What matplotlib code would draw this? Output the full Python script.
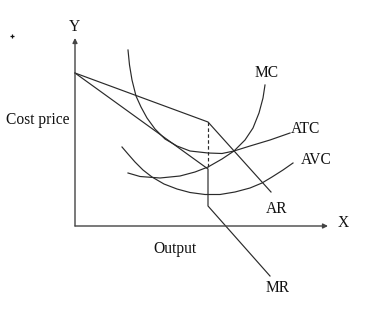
import matplotlib
matplotlib.use("Agg")
import matplotlib.pyplot as plt

# Coordinates: output (x) and cost/price (y), origin at the axes corner
atc_x = [53, 54.5, 57, 61, 66, 72, 80, 90, 102, 115, 133, 147, 159, 175, 195, 215]
atc_y = [176, 161, 146, 130, 119, 108, 97, 87, 80, 75, 73, 72.5, 75, 80, 86, 93]

mc_x = [53, 65, 85, 105, 120, 133, 147, 159, 170, 178, 184, 188, 190]
mc_y = [53, 49.5, 48, 50, 54, 59, 67, 75, 86, 98, 113, 128, 141]

avc_x = [47, 53, 60, 68, 77, 89, 102, 115, 130, 145, 160, 175, 187, 197, 208, 218]
avc_y = [79, 72, 64, 56, 49, 42, 37, 33.5, 31.5, 31.5, 34, 38, 43, 49, 56, 63]

ar_x = [0, 133, 196]
ar_y = [153, 104, 34]

mr_x = [0, 133, 133, 195]
mr_y = [153, 57, 20, -50]

gap_x = [133, 133]
gap_y = [104, 57]

labels = ["MC", "ATC", "AVC", "AR", "MR"]
label_x = [192, 231, 241.5, 202, 203]
label_y = [155, 99, 68, 19, -60]

x_axis_len = 253
y_axis_len = 188

plt.rcParams['font.family'] = ['Liberation Serif', 'DejaVu Serif']
fig = plt.figure(figsize=(3.74, 3.16), dpi=100)
ax = fig.add_axes([0, 0, 1, 1])
ax.set_xlim(-75, 299)
ax.set_ylim(-90, 226)
ax.axis('off')

lc = '#2a2a2a'
lw = 0.85
ax.plot(atc_x, atc_y, color=lc, lw=lw)
ax.plot(mc_x, mc_y, color=lc, lw=lw)
ax.plot(avc_x, avc_y, color=lc, lw=lw)
ax.plot(ar_x, ar_y, color=lc, lw=lw)
ax.plot(mr_x, mr_y, color=lc, lw=lw)
ax.plot(gap_x, gap_y, color=lc, lw=lw, ls=(0, (3, 2)))

ac = '#444444'
ax.annotate('', xy=(x_axis_len, 0), xytext=(0, 0),
            arrowprops=dict(arrowstyle='-|>', lw=1.0, color=ac, mutation_scale=7,
                            shrinkA=0, shrinkB=0))
ax.annotate('', xy=(0, y_axis_len), xytext=(0, 0),
            arrowprops=dict(arrowstyle='-|>', lw=1.0, color=ac, mutation_scale=7,
                            shrinkA=0, shrinkB=0))

fs = 11.2
for t, x, y in zip(labels, label_x, label_y):
    ax.text(x, y, t, fontsize=fs, ha='center', va='center_baseline', color='#111')
ax.text(268, 5, "X", fontsize=fs, ha='center', va='center_baseline', color='#111')
ax.text(-0.5, 201, "Y", fontsize=fs, ha='center', va='center_baseline', color='#111')
ax.text(-37.5, 108, "Cost price", fontsize=fs, ha='center', va='center_baseline', color='#111')
ax.text(99.5, -21, "Output", fontsize=fs, ha='center', va='center_baseline', color='#111')
ax.plot([-63.3], [190], marker='+', ms=2.5, mew=0.9, color='#111', ls='none')

fig.savefig("out.png", dpi=100)
